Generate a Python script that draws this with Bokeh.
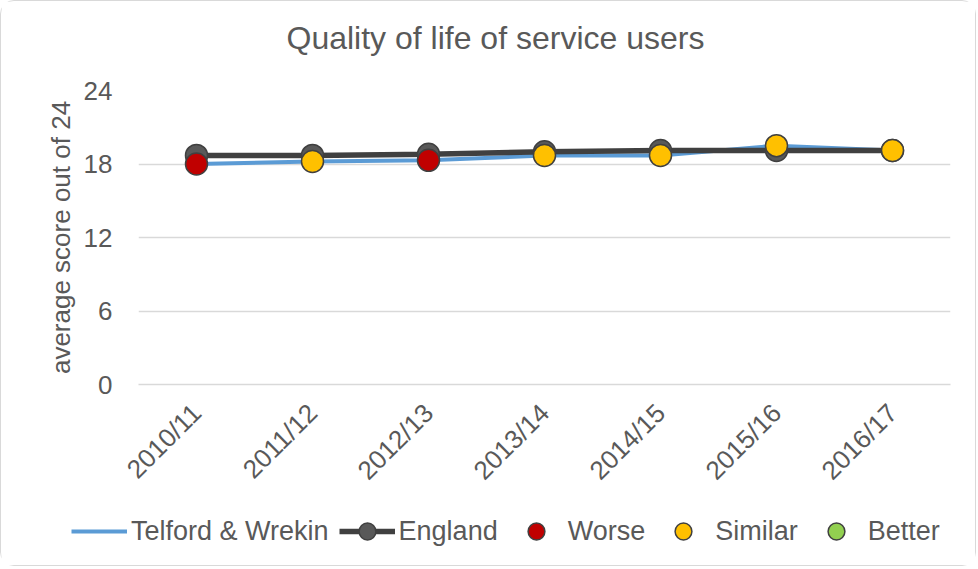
from math import pi
from bokeh.plotting import figure
from bokeh.layouts import column
from bokeh.models import (FactorRange, Range1d, FixedTicker, ColumnDataSource,
                          Legend, LegendItem, Title)
from bokeh.embed import file_html
from bokeh.resources import INLINE

# ---- data ----
years = ["2010/11", "2011/12", "2012/13", "2013/14", "2014/15", "2015/16", "2016/17"]
telford = [18.0, 18.2, 18.3, 18.7, 18.7, 19.5, 19.1]
england = [18.7, 18.7, 18.8, 19.0, 19.1, 19.1, 19.1]
rag = ["Worse", "Similar", "Worse", "Similar", "Similar", "Similar", "Similar"]
rag_colors = {"Worse": "#C00000", "Similar": "#FFC000", "Better": "#92D050"}
legend_labels = ["Telford & Wrekin", "England", "Worse", "Similar", "Better"]
y_ticks = [0, 6, 12, 18, 24]

FONT = "Liberation Sans"
TXT = "#595959"
BLUE = "#5B9BD5"
DARK = "#404040"
GREY = "#595959"

src = ColumnDataSource(dict(year=years, telford=telford, england=england,
                            color=[rag_colors[r] for r in rag]))

p = figure(x_range=FactorRange(factors=years, range_padding=0),
           y_range=Range1d(0, 24),
           frame_width=812, frame_height=294,
           min_border_left=137, min_border_right=25,
           min_border_top=89, min_border_bottom=125,
           output_backend="svg", toolbar_location=None,
           title="Quality of life of service users")

# spacer between title and frame
p.add_layout(Title(text=" ", text_font_size="10px", standoff=22), "above")

p.title.align = "left"
p.title.offset = 148
p.title.text_font = FONT
p.title.text_font_size = "32px"
p.title.text_font_style = "normal"
p.title.text_color = TXT
p.title.standoff = 0

p.outline_line_color = None
p.xgrid.grid_line_color = None
p.ygrid.grid_line_color = "#d9d9d9"
p.ygrid.grid_line_width = 1.5

p.yaxis.ticker = FixedTicker(ticks=y_ticks)
p.yaxis.axis_line_color = None
p.yaxis.major_tick_line_color = None
p.yaxis.minor_tick_line_color = None
p.yaxis.major_label_text_font = FONT
p.yaxis.major_label_text_font_size = "26px"
p.yaxis.major_label_text_color = TXT
p.yaxis.major_label_standoff = 20
p.yaxis.axis_label = "average score out of 24"
p.yaxis.axis_label_text_font = FONT
p.yaxis.axis_label_text_font_size = "26px"
p.yaxis.axis_label_text_font_style = "normal"
p.yaxis.axis_label_text_color = TXT
p.yaxis.axis_label_standoff = 5

p.xaxis.axis_line_color = "#d9d9d9"
p.xaxis.axis_line_width = 1.5
p.xaxis.major_tick_line_color = None
p.xaxis.minor_tick_line_color = None
p.xaxis.major_tick_out = 0
p.xaxis.major_label_orientation = pi / 4
p.xaxis.major_label_text_font = FONT
p.xaxis.major_label_text_font_size = "26px"
p.xaxis.major_label_text_color = TXT
p.xaxis.major_label_standoff = 24

p.line(x="year", y="telford", source=src, line_color=BLUE, line_width=4)
p.line(x="year", y="england", source=src, line_color=DARK, line_width=5.5)
p.scatter(x="year", y="england", source=src, size=22, fill_color=GREY,
          line_color=DARK, line_width=1.5)
p.scatter(x="year", y="telford", source=src, size=22, fill_color="color",
          line_color=DARK, line_width=1.5)

# ---- legend strip (separate canvas below the chart) ----
lg = figure(width=974, height=56, x_range=Range1d(0, 1), y_range=Range1d(0, 1),
            min_border=0, x_axis_location=None, y_axis_location=None,
            output_backend="svg", toolbar_location=None)
lg.grid.visible = False
lg.outline_line_color = None

# let the strip's frame span its whole canvas instead of lining up with the chart's frame
unaligned = False
for fig in (p, lg):
    if "frame_align" in fig.properties():
        fig.frame_align = False
        unaligned = True
legend_x = 70 if unaligned else -67

# legend swatches only: their points lie outside the strip's range
off = dict(x=[-9, -8], y=[-9, -8])
r_tel = lg.line(line_color=BLUE, line_width=4, **off)
r_eng_l = lg.line(line_color=DARK, line_width=5.5, **off)
r_eng_m = lg.scatter(size=17, fill_color=GREY, line_color=DARK, line_width=1.5, **off)
r_rag = {name: lg.scatter(size=17, fill_color=rag_colors[name],
                          line_color=DARK, line_width=1.5, **off)
         for name in ["Worse", "Similar", "Better"]}

legend = Legend(items=[
    LegendItem(label=legend_labels[0], renderers=[r_tel]),
    LegendItem(label=legend_labels[1], renderers=[r_eng_l, r_eng_m]),
    LegendItem(label=legend_labels[2], renderers=[r_rag["Worse"]]),
    LegendItem(label=legend_labels[3], renderers=[r_rag["Similar"]]),
    LegendItem(label=legend_labels[4], renderers=[r_rag["Better"]]),
], orientation="horizontal", location=(legend_x, 13),
    glyph_width=56, glyph_height=42, label_standoff=4, spacing=10,
    label_text_font=FONT, label_text_font_size="27px", label_text_color=TXT,
    border_line_color=None, background_fill_alpha=0, padding=0, margin=0)
lg.add_layout(legend, "center")

layout = column(p, lg, spacing=0,
                styles={"border": "1px solid #d9d9d9", "border-radius": "14px"})

open("out.html", "w").write(file_html(layout, INLINE))
